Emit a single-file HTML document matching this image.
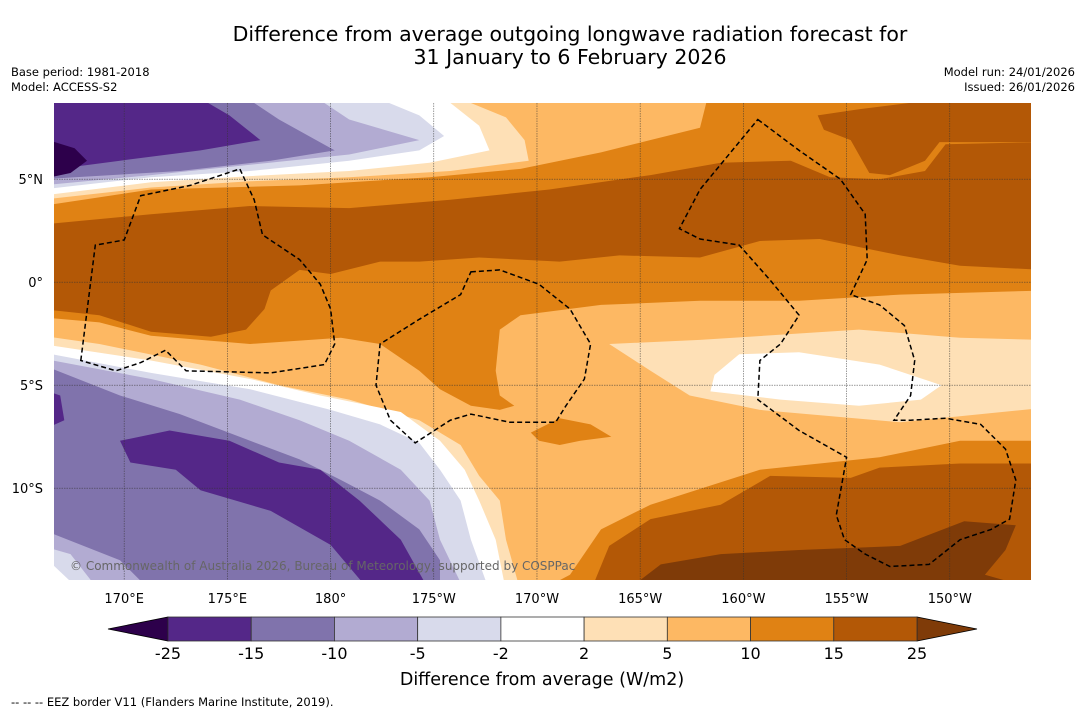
<!DOCTYPE html>
<html><head><meta charset="utf-8"><style>
body{margin:0;background:#fff;width:1085px;height:713px;overflow:hidden;font-family:"DejaVu Sans","Liberation Sans",sans-serif}
svg{display:block}
</style></head><body>
<svg id="s" width="1085" height="713" xmlns="http://www.w3.org/2000/svg">
<text x="570" y="41" font-size="20.5" text-anchor="middle">Difference from average outgoing longwave radiation forecast for</text>
<text x="570" y="64" font-size="20.5" text-anchor="middle">31 January to 6 February 2026</text>
<text x="11" y="76" font-size="11.5">Base period: 1981-2018</text>
<text x="11" y="91" font-size="11.5">Model: ACCESS-S2</text>
<text x="1075" y="76" font-size="11.5" text-anchor="end">Model run: 24/01/2026</text>
<text x="1075" y="91" font-size="11.5" text-anchor="end">Issued: 26/01/2026</text>
<defs><clipPath id="clip"><rect x="54" y="103" width="977" height="477"/></clipPath></defs>
<g id="map" clip-path="url(#clip)"></g>
<g id="cbar"></g>
<text x="542" y="685" font-size="17.5" text-anchor="middle">Difference from average (W/m2)</text>
<text x="11" y="706" font-size="11.5">--  --  -- EEZ border V11 (Flanders Marine Institute, 2019).</text>
</svg>
<script>
// contour band data in [lon(0-360), lat]
const bgLevel = "#fdb863";
const ge10 = [
[[166,3.7],[171.3,4.5],[178.5,4.7],[184.8,5.1],[189.2,5.5],[193.1,6.3],[197.9,7.5],[198.4,9.5],[214.5,9.5],[214.5,-0.4],[207.6,-0.6],[202.7,-0.9],[197.9,-0.9],[193.1,-1.1],[189.2,-1.6],[188.2,-2.3],[188.0,-4.3],[188.2,-5.5],[188.9,-6.0],[188.2,-6.2],[186.8,-6.0],[185.3,-5.2],[184.3,-4.3],[182.4,-3.0],[180.5,-2.7],[176.1,-3.0],[171.3,-2.6],[168.8,-1.95],[166,-1.7]],
[[189.7,-7.3],[191.1,-6.6],[192.6,-6.9],[193.6,-7.5],[192.1,-7.7],[191.1,-7.9],[190.1,-7.7]],
[[190.1,-15],[191.6,-14.2],[193.1,-12.0],[195.5,-10.8],[200.8,-9.1],[206.6,-8.5],[210.5,-7.7],[214.5,-7.7],[214.5,-15]]
];
const ge15 = [
[[203.6,8.1],[205.6,8.4],[214.5,9.5],[214.5,6.8],[209.5,6.8],[208.8,5.9],[207.1,5.2],[206.1,5.3],[205.2,6.9],[203.9,7.4]],
[[166,2.8],[171.3,3.3],[176.1,3.7],[180.9,3.6],[185.8,4.0],[190.6,4.5],[195.5,5.2],[198.9,5.8],[202.3,5.9],[204.2,5.1],[206.6,5.0],[208.8,5.4],[209.8,6.7],[214.5,6.8],[214.5,0.6],[210.5,0.8],[207.6,1.3],[203.7,2.1],[200.8,2.0],[197.9,1.2],[194.0,1.3],[191.1,1.0],[187.2,1.2],[184.3,1.0],[182.4,1.0],[180.0,0.4],[178.5,0.6],[177.1,-0.4],[176.8,-1.3],[175.9,-2.3],[174.2,-2.65],[171.3,-2.4],[168.8,-1.6],[166,-1.3]],
[[192.6,-15],[193.5,-12.8],[195.5,-11.5],[198.9,-10.8],[201.3,-9.4],[205.2,-9.5],[206.6,-9.0],[210.5,-8.8],[214.5,-8.8],[214.5,-15]]
];
const ge25 = [
[[194.3,-15],[196.0,-13.7],[198.9,-13.2],[202.7,-13.0],[207.6,-12.8],[210.7,-11.6],[213.2,-11.8],[212.7,-13.0],[211.7,-14.2],[214.5,-15]]
];
const lt5 = [
[[166,9.5],[186.8,9.5],[186.8,8.7],[188.5,8.0],[189.4,6.9],[189.6,5.9],[185.8,5.4],[180.9,5.1],[176.1,4.9],[171.3,4.6],[166,4.0]],
[[193.5,-3.0],[197.9,-2.8],[205.6,-2.3],[210.5,-2.7],[214.5,-2.8],[214.5,-6.1],[207.6,-6.8],[200.8,-6.2],[197.4,-5.5],[195.5,-4.3]],
[[166,-2.6],[168.8,-3.0],[173.7,-4.0],[177.5,-5.0],[180.9,-5.7],[184.3,-6.7],[186.3,-7.9],[187.2,-9.4],[188.2,-10.6],[188.5,-12.5],[189.2,-15],[166,-15]]
];
const lt2 = [
[[166,9.5],[184.8,9.5],[187.2,7.6],[187.7,6.4],[184.8,5.8],[180.9,5.4],[176.1,5.15],[171.3,4.85],[166,4.2]],
[[199.8,-3.5],[202.7,-3.4],[206.6,-4.0],[209.6,-5.0],[208.6,-5.7],[205.6,-6.0],[201.8,-5.7],[198.4,-5.3],[198.6,-4.5]],
[[166,-3.0],[171.3,-3.8],[176.1,-4.7],[179.5,-5.5],[183.4,-6.3],[185.3,-7.7],[186.5,-9.1],[187.2,-10.6],[188.0,-12.5],[188.5,-15],[166,-15]]
];
const ltm2 = [
[[166,9.5],[180.9,9.5],[184.3,8.1],[185.5,7.1],[184.3,6.4],[180.9,5.9],[176.1,5.4],[171.3,5.1],[166,4.5]],
[[166,-3.4],[171.3,-4.4],[176.1,-5.2],[180.0,-6.2],[182.4,-6.9],[184.3,-7.8],[185.3,-9.1],[186.3,-10.6],[186.8,-12.5],[187.7,-15],[167.9,-15],[166,-13.2]]
];
const ltm5 = [
[[166,9.5],[178.5,9.5],[180.9,7.9],[184.3,6.9],[180.9,6.2],[176.1,5.7],[171.3,5.2],[166,4.7]],
[[166,-3.7],[171.3,-4.7],[175.6,-5.7],[178.5,-6.7],[180.9,-7.7],[183.4,-9.1],[184.8,-10.6],[185.3,-12.5],[186.5,-15],[168.8,-15],[167.4,-13.2],[166,-12.8]]
];
const ltm10 = [
[[166,9.5],[175.1,9.5],[177.5,7.9],[180.2,6.4],[177.1,5.9],[172.7,5.4],[166,5.0]],
[[166,-4.0],[169.8,-5.5],[172.7,-6.4],[176.1,-7.7],[178.5,-8.6],[180.5,-9.6],[182.4,-10.6],[184.3,-12.0],[185.3,-13.5],[185.3,-15],[171.3,-15],[169.8,-13.5],[166,-12.0]]
];
const ltm15 = [
[[166,9.5],[172.7,9.5],[175.1,8.1],[176.6,6.9],[173.7,6.4],[169.8,5.9],[166,5.4]],
[[166,-5.2],[166.9,-5.5],[167.1,-6.7],[166,-7.2]],
[[169.8,-7.7],[172.2,-7.2],[175.1,-7.7],[177.5,-8.75],[179.5,-9.1],[181.4,-10.6],[183.4,-12.5],[184.8,-15],[181.9,-15],[180.0,-12.75],[177.1,-11.1],[173.7,-10.1],[172.5,-9.1],[170.3,-8.75]]
];
const ltm25 = [
[[166,7.0],[167.6,6.5],[168.2,5.9],[167.4,5.3],[166,5.0]]
];
const eez = [
[[167.9,-3.8],[168.6,1.8],[170.0,2.05],[170.8,4.2],[173.2,4.7],[175.6,5.5],[176.3,4.0],[176.7,2.3],[178.5,1.1],[179.5,-0.1],[180.0,-1.3],[180.2,-3.0],[179.7,-4.0],[177.1,-4.4],[173.0,-4.3],[172.0,-3.3],[170.8,-3.9],[169.6,-4.3]],
[[186.8,0.5],[188.2,0.6],[190.1,-0.1],[191.6,-1.3],[192.6,-3.0],[192.3,-4.7],[191.4,-6.0],[190.9,-6.8],[188.7,-6.8],[186.8,-6.4],[185.8,-6.7],[184.1,-7.8],[182.9,-6.7],[182.2,-5.0],[182.4,-3.0],[184.3,-1.8],[186.3,-0.6]],
[[200.7,7.9],[202.7,6.4],[204.7,5.0],[205.9,3.3],[206.0,1.1],[205.2,-0.6],[206.6,-1.1],[207.8,-2.1],[208.3,-3.8],[208.1,-5.5],[207.3,-6.7],[208.1,-6.7],[209.8,-6.6],[211.5,-6.9],[212.7,-8.1],[213.2,-9.6],[212.9,-11.5],[212.0,-12.0],[210.5,-12.5],[209.0,-13.7],[207.1,-13.8],[205.9,-13.2],[204.9,-12.5],[204.5,-11.3],[205.0,-8.5],[202.7,-7.2],[200.7,-5.7],[200.8,-3.8],[201.8,-3.0],[202.7,-1.6],[201.3,0.1],[199.8,1.8],[197.9,2.1],[196.9,2.6],[197.9,4.5]]
];
const lonTicks = [170,175,180,185,190,195,200,205,210];
const lonLabels = ["170°E","175°E","180°","175°W","170°W","165°W","160°W","155°W","150°W"];
const latTicks = [5,0,-5,-10];
const latLabels = ["5°N","0°","5°S","10°S"];
const cbLevels = ["-25","-15","-10","-5","-2","2","5","10","15","25"];
const cbColors = ["#542788","#8073ac","#b2abd2","#d8daeb","#ffffff","#fee0b6","#fdb863","#e08214","#b35806"];
const cbLow = "#2d004b", cbHigh = "#7f3b08";

const NS="http://www.w3.org/2000/svg";
const X = lon => 54 + (lon-166.6)*20.64;
const Y = lat => 103 + (8.7-lat)*20.6;
function mk(tag, attrs, parent){const e=document.createElementNS(NS,tag);for(const k in attrs)e.setAttribute(k,attrs[k]);parent.appendChild(e);return e;}
const map=document.getElementById('map');
const bg=mk('rect',{x:54,y:103,width:977,height:477,fill:bgLevel},map);


const layers=[[ge10,"#e08214","band-10-to-15"],[ge15,"#b35806","band-15-to-25"],[ge25,"#7f3b08","band-above-25"],[lt5,"#fee0b6","band-2-to-5"],[lt2,"#ffffff","band-minus2-to-2"],[ltm2,"#d8daeb","band-minus5-to-minus2"],[ltm5,"#b2abd2","band-minus10-to-minus5"],[ltm10,"#8073ac","band-minus15-to-minus10"],[ltm15,"#542788","band-minus25-to-minus15"],[ltm25,"#2d004b","band-below-minus25"]];
layers.forEach(([polys,col,name])=>polys.forEach(p=>{
 const e=mk('polygon',{points:p.map(q=>X(q[0]).toFixed(1)+','+Y(q[1]).toFixed(1)).join(' '),fill:col},map);
 
 
}));
lonTicks.forEach(l=>{const e=mk('line',{x1:X(l),x2:X(l),y1:103,y2:580,stroke:'#333','stroke-width':0.6,'stroke-dasharray':'1.5,1','stroke-opacity':0.8},map);
 
 });
latTicks.forEach(l=>{const e=mk('line',{x1:54,x2:1031,y1:Y(l),y2:Y(l),stroke:'#333','stroke-width':0.6,'stroke-dasharray':'1.5,1','stroke-opacity':0.8},map);
 
 });
eez.forEach(p=>{const e=mk('polygon',{points:p.map(q=>X(q[0]).toFixed(1)+','+Y(q[1]).toFixed(1)).join(' '),fill:'none',stroke:'#000','stroke-width':1.5,'stroke-dasharray':'5,3'},map);
 
 });
const cp=mk('text',{x:70,y:570,'font-size':12,fill:'#666'},map);cp.textContent='\u00a9 Commonwealth of Australia 2026, Bureau of Meteorology, supported by COSPPac';


const svg=document.getElementById('s');
lonTicks.forEach((l,i)=>{const t=mk('text',{x:X(l),y:603,'font-size':13,'text-anchor':'middle'},svg);t.textContent=lonLabels[i];
 
 });
latTicks.forEach((l,i)=>{const t=mk('text',{x:43,y:Y(l)+5,'font-size':13,'text-anchor':'end'},svg);t.textContent=latLabels[i];
 
 });
const cb=document.getElementById('cbar');
const cx0=168,cx1=917,cy0=617,cy1=641,n=cbColors.length,w=(cx1-cx0)/n;
const lt=mk('polygon',{points:`108,629 ${cx0},${cy0} ${cx0},${cy1}`,fill:cbLow,stroke:'#000','stroke-width':0.8},cb);


const rt=mk('polygon',{points:`977,629 ${cx1},${cy0} ${cx1},${cy1}`,fill:cbHigh,stroke:'#000','stroke-width':0.8},cb);


cbColors.forEach((c,i)=>{const r=mk('rect',{x:cx0+i*w,y:cy0,width:w,height:cy1-cy0,fill:c,stroke:'#333','stroke-width':0.8},cb);
 
 });
cbLevels.forEach((s,i)=>{const t=mk('text',{x:cx0+i*w,y:659,'font-size':16,'text-anchor':'middle'},cb);t.textContent=s;
 
 });
</script>
</body></html>
